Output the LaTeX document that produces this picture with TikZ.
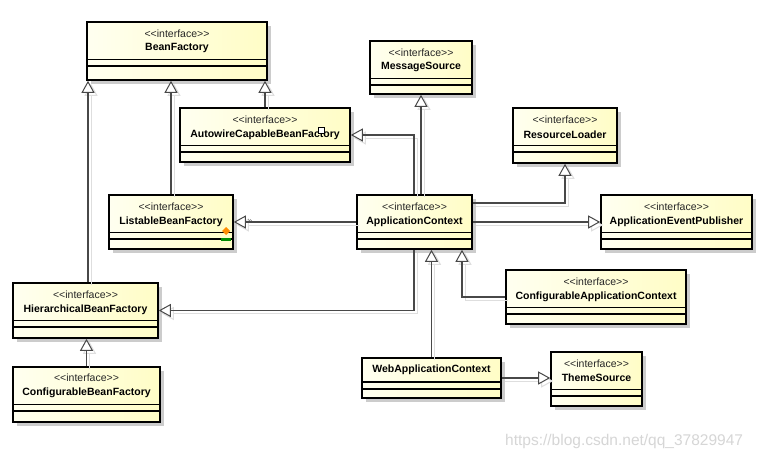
\documentclass[tikz,border=0pt]{standalone}
\usepackage{fontspec}
\setmainfont{Liberation Sans}
\usetikzlibrary{arrows.meta,shadows}

\definecolor{boxl}{RGB}{255,255,240}
\definecolor{boxr}{RGB}{255,253,198}
\definecolor{linec}{RGB}{72,72,72}
\definecolor{shadowc}{RGB}{222,222,222}
\newcommand\stype{<\kern0pt<interface>\kern0pt>}

\tikzset{
  umlbox/.style={draw=black, line width=1.6pt, left color=boxl, right color=boxr,
    drop shadow={shadow xshift=4pt, shadow yshift=-4pt, fill=black!20, opacity=1}},
  ifbox/.style={umlbox, path picture={
      \draw[line width=1.1pt] ([yshift=-37.5pt]path picture bounding box.north west) -- ([yshift=-37.5pt]path picture bounding box.north east);
      \draw[line width=1.1pt] ([yshift=-44pt]path picture bounding box.north west) -- ([yshift=-44pt]path picture bounding box.north east);}},
  clbox/.style={umlbox, path picture={
      \draw[line width=1.1pt] ([yshift=-24pt]path picture bounding box.north west) -- ([yshift=-24pt]path picture bounding box.north east);
      \draw[line width=1.1pt] ([yshift=-31pt]path picture bounding box.north west) -- ([yshift=-31pt]path picture bounding box.north east);}},
  stereo/.style={inner sep=0pt, text=black!85, font=\fontsize{10.5}{12}\selectfont},
  cname/.style={inner sep=0pt, font=\fontsize{10.5}{12}\selectfont\bfseries},
}

\begin{document}
\begin{tikzpicture}[x=1pt,y=-1pt,
  gen/.style={draw=linec, line width=1.1pt,
    preaction={draw=shadowc, transform canvas={shift={(3pt,-3pt)}}},
    -{Triangle[length=12pt,width=13pt,fill=white,line width=1pt]}}]
\fill[white] (0,0) rectangle (759,457);

\node[ifbox, minimum width=180pt, minimum height=58pt] (bf) at (177,51) {};
\node[stereo] (bf-s) at ([yshift=-12.5pt]bf.north) {\stype};
\node[cname] (bf-n) at ([yshift=-27pt]bf.north) {BeanFactory};

\node[ifbox, minimum width=170pt, minimum height=54pt] (auto) at (265,135) {};
\node[stereo] (auto-s) at ([yshift=-13pt]auto.north) {\stype};
\node[cname] (auto-n) at ([yshift=-27.5pt]auto.north) {AutowireCapableBeanFactory};

\node[ifbox, minimum width=124pt, minimum height=54pt] (list) at (171,222) {};
\node[stereo] (list-s) at ([yshift=-13pt]list.north) {\stype};
\node[cname] (list-n) at ([yshift=-28pt]list.north) {ListableBeanFactory};

\node[ifbox, minimum width=102pt, minimum height=53pt] (msg) at (421,67.5) {};
\node[stereo] (msg-s) at ([yshift=-13pt]msg.north) {\stype};
\node[cname] (msg-n) at ([yshift=-27pt]msg.north) {MessageSource};

\node[ifbox, minimum width=104pt, minimum height=55pt] (res) at (565,135.5) {};
\node[stereo] (res-s) at ([yshift=-13pt]res.north) {\stype};
\node[cname] (res-n) at ([yshift=-28pt]res.north) {ResourceLoader};

\node[ifbox, minimum width=115pt, minimum height=54pt] (app) at (414.5,222) {};
\node[stereo] (app-s) at ([yshift=-12.5pt]app.north) {\stype};
\node[cname] (app-n) at ([yshift=-27.5pt]app.north) {ApplicationContext};

\node[ifbox, minimum width=151pt, minimum height=54pt] (aep) at (676.5,222) {};
\node[stereo] (aep-s) at ([yshift=-12.5pt]aep.north) {\stype};
\node[cname] (aep-n) at ([yshift=-27.5pt]aep.north) {ApplicationEventPublisher};

\node[ifbox, minimum width=180pt, minimum height=54pt] (cac) at (596,297) {};
\node[stereo] (cac-s) at ([yshift=-12.5pt]cac.north) {\stype};
\node[cname] (cac-n) at ([yshift=-27.5pt]cac.north) {ConfigurableApplicationContext};

\node[clbox, minimum width=139pt, minimum height=40pt] (web) at (431.5,378) {};
\node[cname] (web-n) at ([yshift=-13pt]web.north) {WebApplicationContext};

\node[ifbox, minimum width=91pt, minimum height=54pt] (theme) at (596.5,379) {};
\node[stereo] (theme-s) at ([yshift=-12.5pt]theme.north) {\stype};
\node[cname] (theme-n) at ([yshift=-27pt]theme.north) {ThemeSource};

\node[ifbox, minimum width=145pt, minimum height=55pt] (hier) at (85.5,310.5) {};
\node[stereo] (hier-s) at ([yshift=-13pt]hier.north) {\stype};
\node[cname] (hier-n) at ([yshift=-28pt]hier.north) {HierarchicalBeanFactory};

\node[ifbox, minimum width=147pt, minimum height=55pt] (cbf) at (86.5,394.5) {};
\node[stereo] (cbf-s) at ([yshift=-11.5pt]cbf.north) {\stype};
\node[cname] (cbf-n) at ([yshift=-27pt]cbf.north) {ConfigurableBeanFactory};

\draw[gen] ([xshift=2.5pt]hier.north) -- ([xshift=2.5pt]hier.north |- bf.south);
\draw[gen] (list.north) -- (list.north |- bf.south);
\draw[gen] (auto.north) -- (auto.north |- bf.south);
\draw[gen] (app.north -| msg.south) -- (msg.south);
\draw[gen] ([xshift=-0.5pt]app.north) |- (auto.east);
\draw[gen] ([yshift=19pt]app.east) -| (res.south);
\draw[gen] (app.east) -- (aep.west);
\draw[gen] (app.west) -- (list.east);
\draw[gen] (cac.west) -| ([xshift=47.5pt]app.south);
\draw[gen] (web.north) -- (web.north |- app.south);
\draw[gen] (web.east) -- (web.east -| theme.west);
\draw[gen] ([xshift=-0.5pt]app.south) |- (hier.east);
\draw[gen] (cbf.north) -- (cbf.north |- hier.south);

\node[inner sep=0pt, text=linec, font=\fontsize{8}{8}\selectfont] (mk) at (250,221.5) {»};
\draw[line width=0.7pt, fill=white] (318.5,127) rectangle (324.5,133);
\fill[orange!90!yellow] (226,227) -- (230,231) -- (226,235) -- (222,231) -- cycle;
\fill[green!55!black] (221,238) rectangle (231,241);

\node[anchor=west, inner sep=0pt, text=black!16, font=\fontsize{15.5}{16}\selectfont] (wm) at (505,441) {https://blog.csdn.net/qq\_37829947};
\end{tikzpicture}
\end{document}
